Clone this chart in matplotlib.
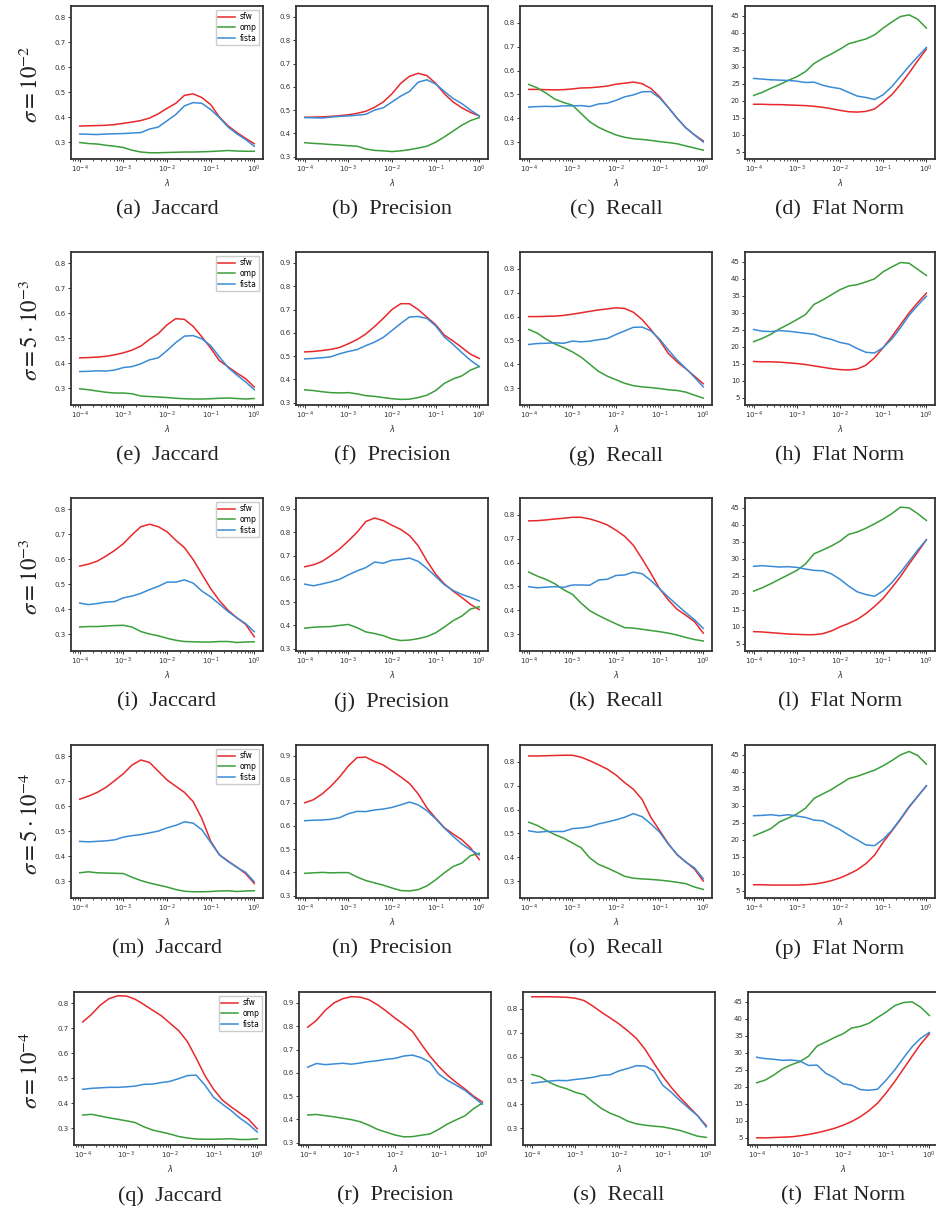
import matplotlib
matplotlib.use("Agg")
import matplotlib.pyplot as plt
from matplotlib.ticker import LogLocator, NullFormatter

# lambda grid (0.2 decade steps from 1e-4 to 1)
lam = [1e-4, 1.585e-4, 2.512e-4, 3.981e-4, 6.310e-4,
       1e-3, 1.585e-3, 2.512e-3, 3.981e-3, 6.310e-3,
       1e-2, 1.585e-2, 2.512e-2, 3.981e-2, 6.310e-2,
       1e-1, 1.585e-1, 2.512e-1, 3.981e-1, 6.310e-1, 1.0]

sigmas = [r"$\sigma = 10^{-2}$", r"$\sigma = 5\cdot 10^{-3}$", r"$\sigma = 10^{-3}$",
          r"$\sigma = 5\cdot 10^{-4}$", r"$\sigma = 10^{-4}$"]
metrics = ["Jaccard", "Precision", "Recall", "Flat Norm"]
letters = "abcdefghijklmnopqrst"

# Jaccard
jaccard_sfw = [
    [0.364, 0.365, 0.366, 0.367, 0.370, 0.375, 0.380, 0.386, 0.396, 0.413, 0.435, 0.455, 0.487, 0.493, 0.478, 0.450, 0.400, 0.365, 0.338, 0.315, 0.293],
    [0.421, 0.422, 0.424, 0.427, 0.433, 0.441, 0.452, 0.468, 0.495, 0.518, 0.553, 0.578, 0.575, 0.547, 0.505, 0.460, 0.410, 0.385, 0.360, 0.338, 0.304],
    [0.572, 0.580, 0.592, 0.612, 0.635, 0.662, 0.698, 0.730, 0.740, 0.730, 0.710, 0.676, 0.646, 0.598, 0.540, 0.482, 0.434, 0.395, 0.365, 0.339, 0.289],
    [0.628, 0.640, 0.655, 0.675, 0.702, 0.730, 0.765, 0.785, 0.775, 0.740, 0.705, 0.680, 0.655, 0.618, 0.550, 0.460, 0.405, 0.380, 0.356, 0.330, 0.290],
    [0.725, 0.755, 0.792, 0.818, 0.830, 0.829, 0.816, 0.795, 0.772, 0.750, 0.720, 0.690, 0.646, 0.580, 0.510, 0.455, 0.412, 0.385, 0.360, 0.335, 0.297],
]
jaccard_omp = [
    [0.298, 0.294, 0.292, 0.287, 0.283, 0.278, 0.267, 0.260, 0.257, 0.257, 0.258, 0.259, 0.260, 0.260, 0.261, 0.262, 0.264, 0.266, 0.264, 0.263, 0.263],
    [0.297, 0.293, 0.288, 0.283, 0.280, 0.280, 0.277, 0.268, 0.266, 0.264, 0.262, 0.259, 0.257, 0.256, 0.256, 0.257, 0.259, 0.260, 0.258, 0.256, 0.258],
    [0.328, 0.330, 0.330, 0.332, 0.334, 0.335, 0.328, 0.310, 0.300, 0.293, 0.283, 0.275, 0.270, 0.269, 0.268, 0.268, 0.270, 0.270, 0.266, 0.268, 0.269],
    [0.333, 0.337, 0.333, 0.332, 0.331, 0.330, 0.315, 0.302, 0.292, 0.284, 0.276, 0.266, 0.259, 0.257, 0.257, 0.258, 0.260, 0.261, 0.258, 0.260, 0.261],
    [0.352, 0.355, 0.348, 0.341, 0.335, 0.329, 0.322, 0.305, 0.292, 0.284, 0.276, 0.266, 0.260, 0.256, 0.255, 0.255, 0.256, 0.257, 0.254, 0.254, 0.257],
]
jaccard_fista = [
    [0.332, 0.331, 0.330, 0.332, 0.333, 0.334, 0.336, 0.338, 0.352, 0.360, 0.385, 0.410, 0.445, 0.458, 0.455, 0.430, 0.398, 0.360, 0.333, 0.310, 0.283],
    [0.366, 0.367, 0.369, 0.368, 0.372, 0.382, 0.386, 0.397, 0.413, 0.421, 0.450, 0.482, 0.508, 0.510, 0.497, 0.470, 0.425, 0.382, 0.352, 0.325, 0.293],
    [0.424, 0.418, 0.422, 0.428, 0.430, 0.445, 0.452, 0.463, 0.478, 0.491, 0.508, 0.508, 0.517, 0.504, 0.472, 0.449, 0.420, 0.390, 0.365, 0.342, 0.309],
    [0.459, 0.457, 0.459, 0.461, 0.465, 0.476, 0.482, 0.486, 0.493, 0.500, 0.513, 0.523, 0.537, 0.532, 0.505, 0.455, 0.405, 0.378, 0.355, 0.335, 0.297],
    [0.455, 0.459, 0.461, 0.463, 0.463, 0.465, 0.468, 0.475, 0.476, 0.482, 0.487, 0.498, 0.510, 0.512, 0.472, 0.423, 0.396, 0.370, 0.340, 0.315, 0.284],
]

# Precision
precision_sfw = [
    [0.469, 0.470, 0.471, 0.473, 0.476, 0.480, 0.486, 0.495, 0.512, 0.535, 0.570, 0.615, 0.645, 0.658, 0.648, 0.615, 0.570, 0.535, 0.510, 0.490, 0.475],
    [0.518, 0.520, 0.524, 0.529, 0.537, 0.553, 0.571, 0.595, 0.627, 0.662, 0.700, 0.725, 0.725, 0.700, 0.667, 0.635, 0.590, 0.565, 0.537, 0.508, 0.490],
    [0.652, 0.660, 0.675, 0.700, 0.728, 0.763, 0.800, 0.846, 0.861, 0.850, 0.830, 0.812, 0.786, 0.742, 0.677, 0.620, 0.578, 0.547, 0.520, 0.490, 0.468],
    [0.699, 0.712, 0.737, 0.770, 0.810, 0.857, 0.893, 0.895, 0.876, 0.861, 0.836, 0.810, 0.782, 0.737, 0.677, 0.633, 0.592, 0.565, 0.540, 0.505, 0.455],
    [0.796, 0.825, 0.868, 0.900, 0.918, 0.927, 0.925, 0.914, 0.892, 0.865, 0.835, 0.808, 0.778, 0.724, 0.672, 0.628, 0.590, 0.559, 0.531, 0.500, 0.475],
]
precision_omp = [
    [0.360, 0.357, 0.355, 0.352, 0.350, 0.347, 0.345, 0.333, 0.327, 0.325, 0.322, 0.325, 0.330, 0.337, 0.345, 0.362, 0.385, 0.410, 0.435, 0.455, 0.468],
    [0.355, 0.352, 0.347, 0.343, 0.342, 0.343, 0.338, 0.330, 0.327, 0.322, 0.317, 0.314, 0.315, 0.322, 0.332, 0.352, 0.383, 0.402, 0.415, 0.440, 0.455],
    [0.388, 0.392, 0.394, 0.395, 0.400, 0.404, 0.390, 0.372, 0.365, 0.356, 0.342, 0.335, 0.337, 0.343, 0.352, 0.368, 0.393, 0.420, 0.440, 0.470, 0.480],
    [0.396, 0.398, 0.400, 0.398, 0.399, 0.399, 0.380, 0.365, 0.355, 0.345, 0.333, 0.322, 0.320, 0.326, 0.342, 0.368, 0.398, 0.425, 0.440, 0.472, 0.482],
    [0.419, 0.421, 0.416, 0.411, 0.405, 0.399, 0.390, 0.375, 0.357, 0.345, 0.333, 0.325, 0.326, 0.332, 0.337, 0.357, 0.380, 0.398, 0.415, 0.446, 0.470],
]
precision_fista = [
    [0.468, 0.467, 0.466, 0.470, 0.473, 0.475, 0.478, 0.482, 0.500, 0.510, 0.535, 0.560, 0.580, 0.620, 0.630, 0.612, 0.580, 0.550, 0.528, 0.500, 0.475],
    [0.488, 0.490, 0.493, 0.497, 0.510, 0.520, 0.528, 0.545, 0.560, 0.580, 0.610, 0.640, 0.668, 0.670, 0.662, 0.630, 0.582, 0.550, 0.515, 0.482, 0.455],
    [0.577, 0.570, 0.578, 0.587, 0.598, 0.617, 0.634, 0.648, 0.672, 0.667, 0.680, 0.683, 0.689, 0.675, 0.645, 0.610, 0.575, 0.550, 0.533, 0.520, 0.505],
    [0.622, 0.624, 0.625, 0.628, 0.635, 0.652, 0.662, 0.661, 0.668, 0.672, 0.679, 0.690, 0.702, 0.690, 0.665, 0.630, 0.590, 0.555, 0.522, 0.497, 0.475],
    [0.624, 0.640, 0.635, 0.638, 0.641, 0.637, 0.642, 0.648, 0.652, 0.658, 0.662, 0.672, 0.676, 0.665, 0.645, 0.595, 0.568, 0.547, 0.525, 0.495, 0.465],
]

# Recall
recall_sfw = [
    [0.521, 0.521, 0.520, 0.519, 0.520, 0.523, 0.527, 0.528, 0.531, 0.535, 0.543, 0.547, 0.552, 0.545, 0.525, 0.490, 0.445, 0.400, 0.360, 0.330, 0.305],
    [0.600, 0.600, 0.601, 0.602, 0.605, 0.610, 0.616, 0.622, 0.628, 0.632, 0.637, 0.634, 0.618, 0.587, 0.545, 0.500, 0.445, 0.410, 0.381, 0.350, 0.318],
    [0.775, 0.776, 0.779, 0.783, 0.786, 0.790, 0.790, 0.783, 0.772, 0.758, 0.736, 0.710, 0.672, 0.615, 0.555, 0.490, 0.443, 0.404, 0.379, 0.352, 0.304],
    [0.825, 0.825, 0.826, 0.827, 0.828, 0.828, 0.820, 0.805, 0.788, 0.770, 0.745, 0.713, 0.685, 0.642, 0.567, 0.512, 0.457, 0.410, 0.380, 0.350, 0.300],
    [0.851, 0.851, 0.851, 0.850, 0.849, 0.845, 0.835, 0.812, 0.786, 0.762, 0.737, 0.708, 0.676, 0.630, 0.572, 0.518, 0.470, 0.428, 0.390, 0.352, 0.310],
]
recall_omp = [
    [0.542, 0.527, 0.505, 0.480, 0.466, 0.455, 0.420, 0.385, 0.362, 0.345, 0.330, 0.320, 0.314, 0.311, 0.307, 0.302, 0.298, 0.293, 0.284, 0.275, 0.266],
    [0.546, 0.530, 0.505, 0.485, 0.470, 0.452, 0.430, 0.400, 0.370, 0.350, 0.335, 0.320, 0.310, 0.305, 0.302, 0.298, 0.293, 0.290, 0.283, 0.270, 0.258],
    [0.560, 0.543, 0.529, 0.511, 0.486, 0.467, 0.430, 0.398, 0.378, 0.360, 0.343, 0.327, 0.325, 0.320, 0.315, 0.310, 0.304, 0.296, 0.286, 0.277, 0.271],
    [0.547, 0.533, 0.513, 0.495, 0.480, 0.460, 0.440, 0.397, 0.370, 0.355, 0.338, 0.320, 0.312, 0.309, 0.307, 0.304, 0.300, 0.295, 0.289, 0.275, 0.265],
    [0.525, 0.515, 0.492, 0.476, 0.465, 0.450, 0.440, 0.410, 0.382, 0.362, 0.348, 0.329, 0.318, 0.312, 0.308, 0.305, 0.298, 0.290, 0.278, 0.266, 0.261],
]
recall_fista = [
    [0.447, 0.449, 0.450, 0.449, 0.452, 0.452, 0.453, 0.449, 0.460, 0.463, 0.475, 0.490, 0.498, 0.511, 0.512, 0.485, 0.445, 0.400, 0.360, 0.330, 0.300],
    [0.483, 0.487, 0.488, 0.490, 0.488, 0.497, 0.494, 0.497, 0.503, 0.508, 0.525, 0.540, 0.555, 0.556, 0.540, 0.505, 0.460, 0.418, 0.383, 0.345, 0.305],
    [0.499, 0.494, 0.497, 0.499, 0.496, 0.506, 0.506, 0.505, 0.527, 0.530, 0.546, 0.548, 0.560, 0.553, 0.525, 0.490, 0.455, 0.422, 0.390, 0.360, 0.324],
    [0.511, 0.505, 0.508, 0.508, 0.508, 0.520, 0.523, 0.528, 0.540, 0.548, 0.557, 0.568, 0.583, 0.570, 0.540, 0.505, 0.455, 0.412, 0.380, 0.355, 0.310],
    [0.488, 0.493, 0.497, 0.500, 0.499, 0.504, 0.508, 0.513, 0.521, 0.524, 0.540, 0.550, 0.562, 0.560, 0.540, 0.480, 0.450, 0.415, 0.383, 0.352, 0.305],
]

# Flat norm
flat_sfw = [
    [19.0, 19.0, 18.9, 18.9, 18.8, 18.7, 18.6, 18.4, 18.1, 17.7, 17.2, 16.8, 16.7, 16.9, 17.6, 19.6, 21.8, 24.8, 28.2, 31.8, 35.2],
    [15.7, 15.6, 15.6, 15.5, 15.3, 15.1, 14.8, 14.4, 14.0, 13.6, 13.3, 13.2, 13.5, 14.6, 16.8, 19.8, 23.0, 26.5, 30.0, 33.0, 35.8],
    [8.6, 8.5, 8.3, 8.1, 7.9, 7.8, 7.7, 7.7, 8.0, 8.8, 10.0, 11.0, 12.2, 13.9, 16.0, 18.4, 21.5, 24.8, 28.5, 32.0, 35.6],
    [6.8, 6.8, 6.7, 6.7, 6.7, 6.7, 6.8, 7.0, 7.4, 8.0, 8.8, 9.9, 11.2, 13.0, 15.5, 19.3, 22.6, 26.0, 29.6, 32.8, 35.9],
    [5.0, 5.0, 5.1, 5.2, 5.3, 5.6, 6.0, 6.5, 7.1, 7.8, 8.7, 9.8, 11.2, 13.0, 15.2, 18.2, 21.6, 25.3, 29.0, 32.6, 35.6],
]
flat_omp = [
    [21.6, 22.5, 23.7, 24.8, 26.0, 27.1, 28.6, 31.0, 32.5, 33.8, 35.2, 36.8, 37.5, 38.2, 39.4, 41.4, 43.2, 44.8, 45.3, 44.0, 41.4],
    [21.5, 22.5, 23.7, 25.3, 26.6, 28.0, 29.5, 32.5, 33.8, 35.3, 36.8, 37.9, 38.3, 39.1, 40.0, 42.1, 43.5, 44.8, 44.6, 42.8, 41.0],
    [20.5, 21.5, 22.7, 24.0, 25.3, 26.6, 28.5, 31.5, 32.6, 33.8, 35.2, 37.2, 37.9, 39.0, 40.3, 41.7, 43.3, 45.2, 45.0, 43.3, 41.3],
    [21.2, 22.2, 23.3, 25.3, 26.4, 27.6, 29.3, 32.2, 33.5, 34.8, 36.4, 38.0, 38.7, 39.6, 40.5, 41.8, 43.3, 45.0, 46.0, 44.8, 42.3],
    [21.2, 22.0, 23.5, 25.3, 26.5, 27.4, 29.0, 32.0, 33.2, 34.5, 35.6, 37.3, 37.8, 38.7, 40.4, 42.0, 43.9, 44.8, 45.0, 43.4, 41.0],
]
flat_fista = [
    [26.6, 26.4, 26.2, 26.1, 26.0, 25.8, 25.4, 25.5, 24.6, 24.0, 23.6, 22.5, 21.4, 21.0, 20.4, 21.8, 24.2, 27.2, 30.2, 33.0, 35.7],
    [25.1, 24.6, 24.5, 24.8, 24.6, 24.3, 24.0, 23.7, 22.8, 22.2, 21.3, 20.8, 19.5, 18.4, 18.2, 19.8, 22.3, 25.6, 29.3, 32.2, 34.9],
    [27.8, 28.0, 27.8, 27.6, 27.7, 27.5, 27.0, 26.6, 26.5, 25.6, 24.0, 22.0, 20.3, 19.5, 19.0, 20.6, 23.0, 26.0, 29.3, 32.6, 35.6],
    [27.1, 27.2, 27.4, 27.1, 27.4, 27.0, 26.6, 25.8, 25.6, 24.3, 23.0, 21.4, 20.0, 18.5, 18.3, 20.2, 22.8, 26.2, 29.8, 32.8, 35.9],
    [28.7, 28.3, 28.1, 27.8, 27.9, 27.6, 26.3, 26.4, 24.0, 22.7, 20.9, 20.5, 19.2, 19.0, 19.3, 22.0, 25.0, 28.5, 31.8, 34.3, 36.0],
]

sfw_data = [jaccard_sfw, precision_sfw, recall_sfw, flat_sfw]
omp_data = [jaccard_omp, precision_omp, recall_omp, flat_omp]
fista_data = [jaccard_fista, precision_fista, recall_fista, flat_fista]

ylims = [(0.232, 0.845), (0.29, 0.947), (0.229, 0.871), (2.9, 47.9)]
yticks = [[0.3, 0.4, 0.5, 0.6, 0.7, 0.8],
          [0.3, 0.4, 0.5, 0.6, 0.7, 0.8, 0.9],
          [0.3, 0.4, 0.5, 0.6, 0.7, 0.8],
          [5, 10, 15, 20, 25, 30, 35, 40, 45]]

red = "#e8282b"
green = "#3a9e3a"
blue = "#3a8bd6"

W, H = 937, 1214
fig = plt.figure(figsize=(W / 100, H / 100), dpi=100)

col_left = [71, 296, 520, 745]
row_top = [6, 252, 498, 745, 992]
ax_w = 192
ax_h = 153

for r in range(5):
    shift = 3 if r == 4 else 0
    for c in range(4):
        left = col_left[c] + shift
        w = ax_w if c < 3 else 190
        ax = fig.add_axes([left / W, 1 - (row_top[r] + ax_h) / H, w / W, ax_h / H])
        ax.plot(lam, sfw_data[c][r], color=red, lw=1.1, label="sfw")
        ax.plot(lam, omp_data[c][r], color=green, lw=1.1, label="omp")
        ax.plot(lam, fista_data[c][r], color=blue, lw=1.1, label="fista")
        ax.set_xscale("log")
        ax.set_xticks([1e-4, 1e-3, 1e-2, 1e-1, 1e0])
        ax.xaxis.set_minor_locator(LogLocator(base=10, subs=range(2, 10)))
        ax.xaxis.set_minor_formatter(NullFormatter())
        ax.set_ylim(*ylims[c])
        ax.set_yticks(yticks[c])
        if c < 3:
            ax.set_yticklabels(["%.1f" % v for v in yticks[c]])
        ax.tick_params(labelsize=5, length=2.2, width=0.7, pad=1.5, colors="#333333")
        ax.tick_params(which="minor", length=1.3, width=0.5)
        ax.set_xlabel(r"$\lambda$", fontsize=6, labelpad=1, color="#333333")
        for sp in ax.spines.values():
            sp.set_linewidth(1.3)
            sp.set_color("#333333")
        if c == 0:
            ax.legend(loc="upper right", fontsize=5.5, handlelength=2.2,
                      handletextpad=0.6, borderpad=0.35, labelspacing=0.2,
                      framealpha=1, edgecolor="#cccccc", fancybox=False)
        cx = (left + w / 2) / W
        fig.text(cx, 1 - (row_top[r] + 204) / H,
                 "(%s)  %s" % (letters[r * 4 + c], metrics[c]),
                 ha="center", va="center", fontsize=16,
                 family="Liberation Serif", color="#222222")
    fig.text(31 / W, 1 - (row_top[r] + ax_h / 2 + 2) / H, sigmas[r],
             rotation=90, ha="center", va="center", fontsize=16.5,
             math_fontfamily="stix", color="#222222")

fig.savefig("out.png", dpi=100)
